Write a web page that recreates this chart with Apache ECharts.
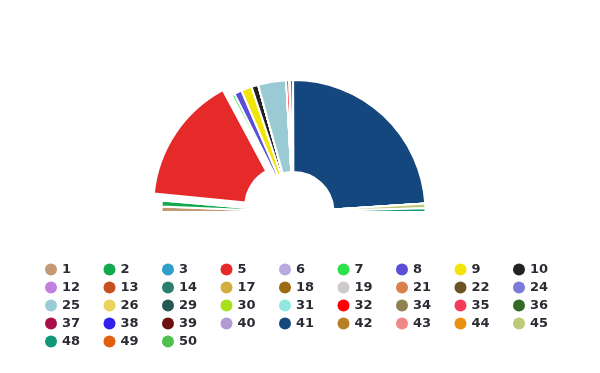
<!DOCTYPE html>
<html>
<head>
<meta charset="utf-8">
<script src="https://cdn.jsdelivr.net/npm/echarts@6/dist/echarts.min.js"></script>
<style>html,body{margin:0;padding:0;background:#fff}#c{width:600px;height:373px}</style>
</head>
<body>
<div id="c"></div>
<script>
const parties = ['1','2','3','5','6','7','8','9','10','12','13','14','17','18','19','21','22','24','25','26','29','30','31','32','34','35','36','37','38','39','40','41','42','43','44','45','48','49','50'];
const seats   = [7,8,2,168,1,4,10,14,9,0,0,0,0,0,0,0,0,0,37,0,0,0,0,4,0,1,4,0,0,0,0,259,0,0,0,6,5,0,0];
const colors  = ['#C49A74','#12A94F','#30A0C8','#E62A2A','#B9A9DF','#2CE24A','#5A4FD6','#F2E409','#222222',
                 '#C080E0','#C8501E','#2E7E6E','#D4AE3C','#9C6A10','#CFCACA','#D9804F','#6B5223','#7A7AD8',
                 '#9ACBD4','#E8D45A','#245850','#A8E01E','#90E8E0','#FF0000','#8F8150','#F53A5A','#336A28',
                 '#A81048','#3020F0','#6E1010','#B09AD0','#13477E','#B88024','#F08888','#EB9110','#BEC97A',
                 '#109878','#E06010','#50C050'];
const selectedParty = '5';

const chart = echarts.init(document.getElementById('c'), null, {renderer: 'canvas'});
chart.setOption({
  animation: false,
  color: colors,
  legend: {
    left: 40,
    top: 258,
    itemWidth: 12,
    itemHeight: 12,
    itemGap: 5,
    icon: 'circle',
    itemStyle: {borderWidth: 0},
    textStyle: {
      width: 36.5,
      fontSize: 13,
      lineHeight: 13,
      fontWeight: 'bold',
      color: '#2b2b33',
      fontFamily: 'DejaVu Sans'
    },
    data: parties
  },
  series: [{
    type: 'pie',
    center: [293.5, 212],
    radius: [40, 132],
    startAngle: 180,
    endAngle: 0,
    avoidLabelOverlap: false,
    selectedMode: 'single',
    selectedOffset: 10,
    label: {show: false},
    labelLine: {show: false},
    itemStyle: {borderColor: '#fff', borderWidth: 2},
    data: parties.map((p, i) => ({name: p, value: seats[i], selected: p === selectedParty}))
  }]
});
</script>
</body>
</html>
